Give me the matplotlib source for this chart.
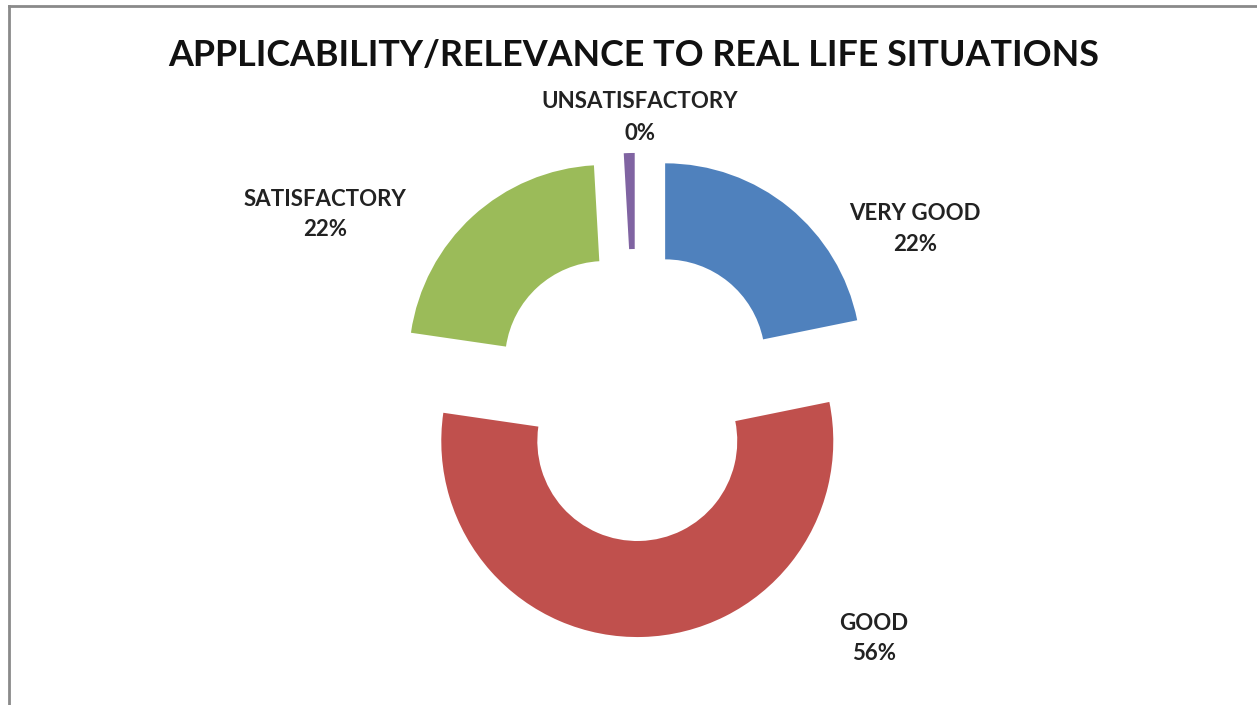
import matplotlib
matplotlib.use("Agg")
import matplotlib.pyplot as plt
from matplotlib.lines import Line2D

# data
categories = ["VERY GOOD", "GOOD", "SATISFACTORY", "UNSATISFACTORY"]
values = [22, 56, 22, 0.9]
pct_labels = ["22%", "56%", "22%", "0%"]
colors = ["#4F81BD", "#C0504D", "#9BBB59", "#8064A2"]

W, H = 1257, 705
fig = plt.figure(figsize=(W / 100, H / 100), dpi=100)
ax = fig.add_axes([0, 0, 1, 1])

# donut geometry (pixels)
R = 196
cx, cy = 636, H - 395

ax.pie(values, colors=colors, startangle=90, counterclock=False,
       explode=[0.235] * len(values), radius=1,
       wedgeprops=dict(width=0.49, linewidth=0), frame=True)
ax.set_xlim(-cx / R, (W - cx) / R)
ax.set_ylim(-cy / R, (H - cy) / R)
ax.set_aspect("auto")
ax.axis("off")

font = "Lato"
fig.text(634 / W, 1 - 56 / H, "APPLICABILITY/RELEVANCE TO REAL LIFE SITUATIONS",
         ha="center", va="center", fontsize=25.8, fontweight="bold",
         family=font, color="#111111")

# label positions in pixels (x, y of first line)
label_pos = [(915, 213), (874, 623), (325, 199), (640, 102)]
for (lx, ly), cat, pct in zip(label_pos, categories, pct_labels):
    fig.text(lx / W, 1 - ly / H, cat, ha="center", va="center",
             fontsize=16, fontweight="bold", family=font, color="#222222")
    fig.text(lx / W, 1 - (ly + 31) / H, pct, ha="center", va="center",
             fontsize=16, fontweight="bold", family=font, color="#222222")

# chart frame (left and top edges visible)
fig.add_artist(Line2D([9 / W, 9 / W], [0, 1 - 6 / H], color="#8a8a8a", lw=2))
fig.add_artist(Line2D([9 / W, 1], [1 - 6 / H, 1 - 6 / H], color="#8a8a8a", lw=2))

fig.savefig("out.png", dpi=100, facecolor="white")
